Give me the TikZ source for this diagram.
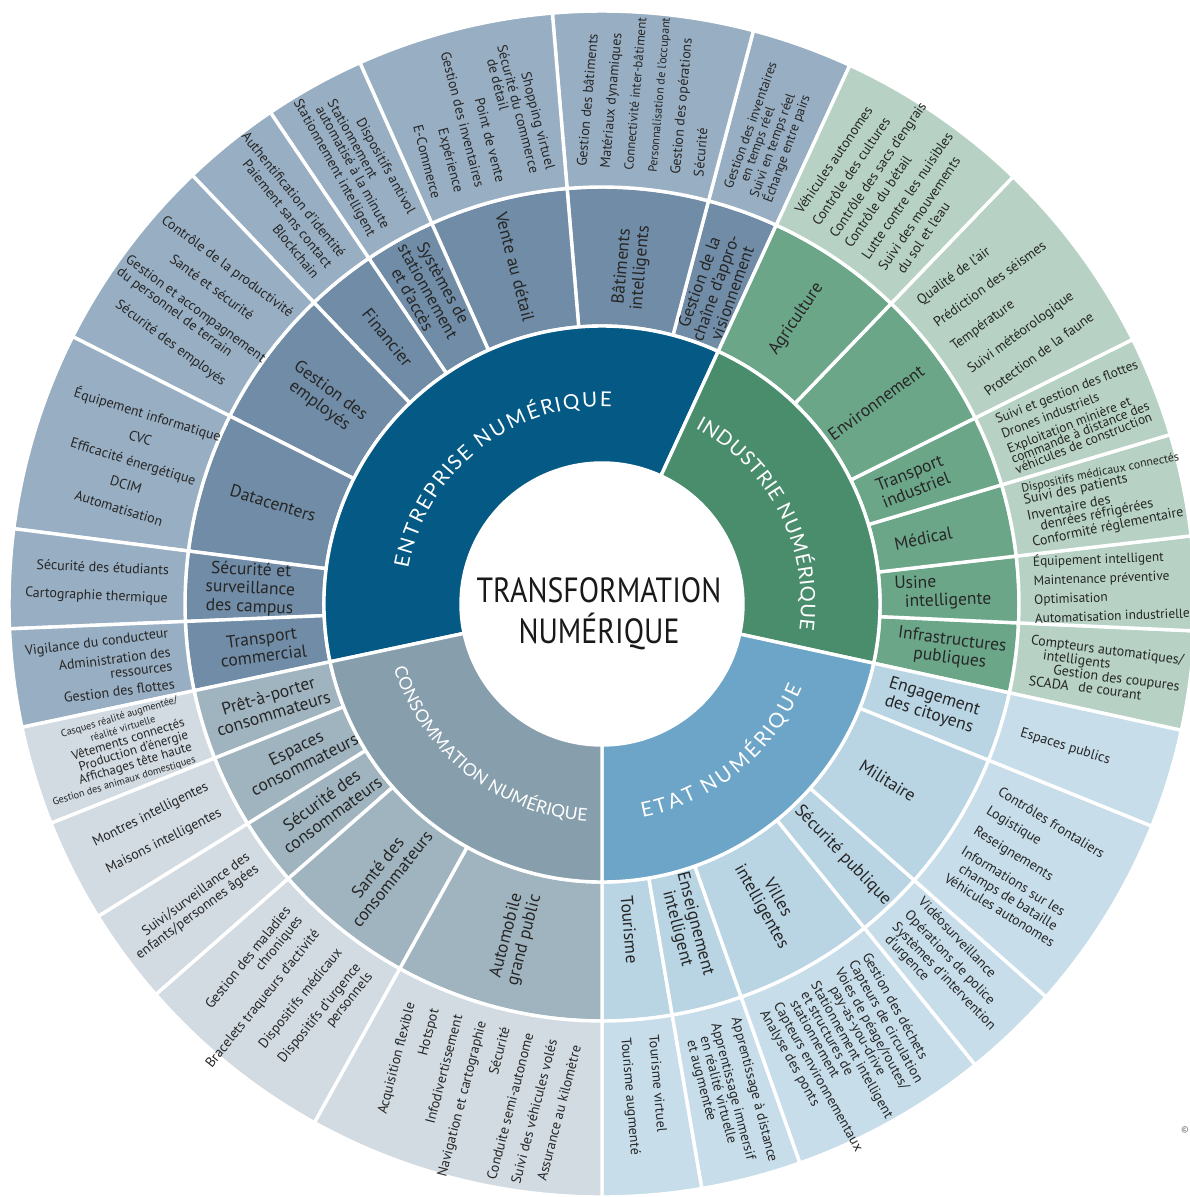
\documentclass[tikz,border=0pt]{standalone}
\usepackage{fontspec}
\usepackage{calc}
\usepackage{graphicx}
\setmainfont{PT Sans}
\newfontfamily\latof{Lato}
\usetikzlibrary{decorations.text}
\definecolor{E1}{RGB}{4,89,133}
\definecolor{E2}{RGB}{112,140,166}
\definecolor{E3}{RGB}{152,174,194}
\definecolor{I1}{RGB}{74,141,109}
\definecolor{I2}{RGB}{108,166,137}
\definecolor{I3}{RGB}{183,210,196}
\definecolor{S1}{RGB}{108,165,199}
\definecolor{S2}{RGB}{185,212,227}
\definecolor{S3}{RGB}{199,221,234}
\definecolor{C1}{RGB}{135,158,173}
\definecolor{C2}{RGB}{160,180,192}
\definecolor{C3}{RGB}{210,219,226}
\definecolor{txt}{RGB}{38,38,38}
\newcommand\annsec[5]{\fill[#1,draw=white,line width=3.4pt] (#2:#4) arc[start angle=#2,end angle=#3,radius=#4] -- (#3:#5) arc[start angle=#3,end angle=#2,radius=#5] -- cycle;}
\newcommand\cbx[2]{\makebox[\widthof{#1}][c]{#2}}
\newcommand\lbx[2]{\makebox[\widthof{#1}][l]{#2}}
\newcommand\lf[2]{\fontsize{#1}{#2}\selectfont\lineskiplimit=-50pt\lineskip=0pt}
\tikzset{
 lab2/.style={font=\lf{17.5}{18.5}, text=txt, align=center, inner sep=0pt},
 leaf/.style={font=\lf{14}{13.5}, text=txt, inner sep=0pt},
 lr/.style={leaf, anchor=west, align=left},
 ll/.style={leaf, anchor=east, align=right},
 lc/.style={leaf, anchor=center, align=center},
 ringtxt/.style 2 args={decorate,decoration={text effects along path,text={#1},text effects/.cd,text along path,fit text to path,characters={text=white,font=\latof\fontsize{#2}{#2}\selectfont,anchor=base,inner sep=0pt}}},
}
\begin{document}
\begin{tikzpicture}[x=1pt,y=1pt]
\fill[white] (-602,-593) rectangle (588,604);
\useasboundingbox (-602,-593) rectangle (588,604);
% ring 2 and 3
\foreach \a/\b in {65.3/75.2,75.2/94.8,94.8/114.1,114.1/124,124/133.7,133.7/153.2,153.2/172.7,172.7/182.4,182.4/192}{\annsec{E2}{\a}{\b}{278}{417}\annsec{E3}{\a}{\b}{417}{593}}
\foreach \a/\b in {-12.3/-2.6,-2.6/6.6,6.6/16.6,16.6/26.5,26.5/46.1,46.1/65.3}{\annsec{I2}{\a}{\b}{278}{417}\annsec{I3}{\a}{\b}{417}{593}}
\foreach \a/\b in {-90/-80.3,-80.3/-70.5,-70.5/-51,-51/-41.5,-41.5/-22,-22/-12.3}{\annsec{S2}{\a}{\b}{278}{417}\annsec{S3}{\a}{\b}{417}{593}}
\foreach \a/\b in {192/201.7,201.7/211.8,211.8/221.2,221.2/241,241/270}{\annsec{C2}{\a}{\b}{278}{417}\annsec{C3}{\a}{\b}{417}{593}}
% ring 1
\annsec{E1}{65.3}{192}{141}{278}
\annsec{I1}{-12.3}{65.3}{141}{278}
\annsec{S1}{-90}{-12.3}{141}{278}
\annsec{C1}{192}{270}{141}{278}
\fill[white] (0,0) circle[radius=141];
% centre
\node[font=\fontsize{35}{41}\selectfont, text=black!90, align=center, inner sep=0pt] (title) at (-3,-10) {\scalebox{0.85}[1]{TRANSFORMATION}\\\scalebox{0.85}[1]{NUMÉRIQUE}};
% ring 1 labels
\path[ringtxt={ENTREPRISE NUMÉRIQUE}{20.5}] (169.7:197) arc[start angle=169.7,end angle=87.2,radius=197];
\path[ringtxt={INDUSTRIE NUMÉRIQUE}{20}] (62:199) arc[start angle=62,end angle=-7.5,radius=199];
\path[ringtxt={ETAT NUMÉRIQUE}{20.5}] (-79.2:217) arc[start angle=-79.2,end angle=-22.8,radius=217];
\path[ringtxt={CONSOMMATION NUMÉRIQUE}{17.5}] (197.2:218) arc[start angle=197.2,end angle=266,radius=218];
% ring 2 labels
\node[lab2,rotate=70.25,font=\lf{17}{17.5}] (gc) at (70.25:336) {Gestion de la\\chaîne d'appro-\\visionnement};
\node[lab2,rotate=85] (bi) at (85:338) {Bâtiments\\intelligents};
\node[lab2,rotate=-75.55] (vd) at (104.45:348) {Vente au détail};
\node[lab2,rotate=-60.95,font=\lf{17}{17.5}] (ss) at (119.05:358) {Systèmes de\\stationnement\\et d'accès};
\node[lab2,rotate=-51.15] (fi) at (128.85:342) {Financier};
\node[lab2,rotate=-36.55] (ge) at (143.45:345) {Gestion des\\employés};
\node[lab2,rotate=-17.05] (dc) at (162.95:344) {Datacenters};
\node[lab2,rotate=-2.45] (sc) at (177.55:352) {Sécurité et\\surveillance\\des campus};
\node[lab2,rotate=7.2] (tc) at (187.2:342) {Transport\\commercial};
\node[lab2,rotate=-7.45] (ip) at (-7.45:352) {Infrastructures\\publiques};
\node[lab2,rotate=2,align=left] (us) at (2:341) {Usine\\\hspace*{10pt}intelligente};
\node[lab2,rotate=11.6] (me) at (11.6:328) {Médical};
\node[lab2,rotate=21.55] (ti) at (21.55:334) {Transport\\industriel};
\node[lab2,rotate=36.3] (env) at (36.3:340) {Environnement};
\node[lab2,rotate=55.7] (ag) at (55.7:345) {Agriculture};
\node[lab2,rotate=-85.15] (to) at (-85.15:327) {Tourisme};
\node[lab2,rotate=-75.4] (en) at (-75.4:333) {Enseignement\\intelligent};
\node[lab2,rotate=-60.75] (vi) at (-60.75:342) {Villes\\intelligentes};
\node[lab2,rotate=-46.25] (sp) at (-46.25:348) {Sécurité publique};
\node[lab2,rotate=-31.75] (mi) at (-31.75:336) {Militaire};
\node[lab2,rotate=-17.15] (ec) at (-17.15:345) {Engagement\\des citoyens};
\node[lab2,rotate=16.85] (pp) at (196.85:346) {Prêt-à-porter\\consommateurs};
\node[lab2,rotate=26.75] (es) at (206.75:338) {Espaces\\consommateurs};
\node[lab2,rotate=36.5] (sv) at (216.5:342) {Sécurité des\\consommateurs};
\node[lab2,rotate=51.1] (sa) at (231.1:346) {Santé des\\consommateurs};
\node[lab2,rotate=75.5] (au) at (255.5:345) {Automobile\\grand public};
% leaves: entreprise
\node[lr,rotate=70.25,font=\lf{13.4}{13}] (l-gc) at (70.25:434) {Gestion des inventaires\\\hspace*{12pt}en temps réel\\[1.5pt]Suivi en temps réel\\[1.5pt]Échange entre pairs};
\node[lr,rotate=85] (l-bi) at (85:434) {Gestion des bâtiments\\[10pt]Matériaux dynamiques\\[10pt]{\fontsize{13}{13.5}\selectfont Connectivité inter-bâtiment}\\[10pt]{\fontsize{12}{13.5}\selectfont Personnalisation de l'occupant}\\[10pt]Gestion des opérations\\[10pt]Sécurité};
\node[ll,rotate=-75.55] (l-vd) at (104.45:434) {Shopping virtuel\\[3pt]Sécurité du commerce\\\lbx{Sécurité du commerce}{\hspace*{11pt}de détail}\\[8pt]Point de vente\\[8pt]Gestion des inventaires\\[8pt]Expérience\\[10pt]E-Commerce};
\node[ll,rotate=-60.95] (l-ss) at (119.05:434) {Dispositifs antivol\\[2.5pt]\lbx{automatisé à la minute}{Stationnement}\\automatisé à la minute\\[2.5pt]Stationnement intelligent};
\node[ll,rotate=-51.15] (l-fi) at (128.85:434) {Authentification d'identité\\[3.5pt]Paiement sans contact\\[3.5pt]Blockchain};
\node[lc,rotate=-36.55,font=\lf{14}{15}] (l-ge) at (143.45:502) {Contrôle de la productivité\\[11.5pt]Santé et sécurité\\[11.5pt]Gestion et accompagnement\\\lbx{Gestion et accompagnement}{du personnel de terrain}\\[12pt]Sécurité des employés};
\node[lc,rotate=-17.05] (l-dc) at (162.95:490) {Équipement informatique\\[11pt]CVC\\[11pt]Efficacité énergétique\\[11pt]DCIM\\[11pt]Automatisation};
\node[ll,rotate=-2.45] (l-sc) at (177.55:434) {Sécurité des étudiants\\[14.5pt]Cartographie thermique};
\node[ll,rotate=7.2,font=\lf{14}{14}] (l-tc) at (187.2:434) {Vigilance du conducteur\\[5.5pt]Administration des\\ressources\\[4.5pt]Gestion des flottes};
% leaves: consommation
\node[ll,rotate=16.85,font=\lf{13}{12.5}] (l-pp) at (196.85:434) {{\fontsize{10.2}{10}\selectfont Casques réalité augmentée/}\\{\fontsize{10.2}{10}\selectfont\cbx{Casques réalité augmentée/}{réalité virtuelle}}\\Vêtements connectés\\Production d'énergie\\Affichages tête haute\\{\fontsize{10.2}{10}\selectfont Gestion des animaux domestiques}};
\node[ll,rotate=26.75] (l-es) at (206.75:434) {Montres intelligentes\\[16pt]Maisons intelligentes};
\node[ll,rotate=36.5,font=\lf{14}{15}] (l-sv) at (216.5:434) {Suivi/surveillance des\\enfants/personnes âgées};
\node[ll,rotate=51.1,font=\lf{14}{15}] (l-sa) at (231.1:434) {Gestion des maladies\\chroniques\\[7pt]Bracelets traqueurs d'activité\\[14pt]Dispositifs médicaux\\[9pt]Dispositifs d'urgence\\personnels};
\node[ll,rotate=75.5] (l-au) at (255.5:434) {Acquisition flexible\\[11pt]Hotspot\\[11pt]Infodivertissement\\[11pt]Navigation et cartographie\\[11pt]Sécurité\\[11pt]Conduite semi-autonome\\[11pt]Suivi des véhicules volés\\[11pt]Assurance au kilomètre};
% leaves: etat
\node[lr,rotate=-85.15] (l-to) at (-85.15:434) {Tourisme virtuel\\[14.5pt]Tourisme augmenté};
\node[lr,rotate=-75.4,font=\lf{14}{14}] (l-en) at (-75.4:434) {Apprentissage à distance\\[7pt]Apprentissage immersif\\\hspace*{10pt}en réalité virtuelle\\\hspace*{11pt}et augmentée};
\node[lr,rotate=-60.75] (l-vi) at (-60.75:434) {Gestion des déchets\\[2pt]Capteurs de circulation\\[2pt]Voies de péage/routes/\\\hspace*{13pt}pay-as-you-drive\\[1pt]Stationnement intelligent\\\hspace*{4pt}et structures de\\\hspace*{6pt}stationnement\\[2pt]Capteurs environnementaux\\[2pt]Analyse des ponts};
\node[lr,rotate=-46.25,font=\lf{14}{14}] (l-sp) at (-46.25:434) {Vidéosurveillance\\[5pt]Opérations de police\\[3pt]Systèmes d'intervention\\\hspace*{4pt}d'urgence};
\node[lr,rotate=-31.75,font=\lf{14}{14}] (l-mi) at (-31.75:436) {Contrôles frontaliers\\[8pt]Logistique\\[10pt]Reseignements\\[10pt]Informations sur les\\[2pt]\hspace*{7pt}champs de bataille\\[2pt]Véhicules autonomes};
\node[lr,rotate=-17.15] (l-ep) at (-17.15:438) {Espaces publics};
% leaves: industrie
\node[lr,rotate=-7.45] (l-ip) at (-7.45:430) {Compteurs automatiques/\\\hspace*{14pt}intelligents\\\hspace*{26pt}Gestion des coupures\\\hspace*{3pt}\makebox[50pt][l]{SCADA}de courant};
\node[lr,rotate=2,font=\lf{13.3}{13.5}] (l-us) at (2:432) {Équipement intelligent\\[5.5pt]Maintenance préventive\\[5.5pt]Optimisation\\[5.5pt]Automatisation industrielle};
\node[lr,rotate=11.6,font=\lf{14}{13}] (l-me) at (11.6:434) {{\fontsize{12}{12}\selectfont Dispositifs médicaux connectés}\\[-1pt]Suivi des patients\\[4pt]Inventaire des\\[-1pt]\hspace*{11pt}denrées réfrigérées\\[1.5pt]Conformité réglementaire};
\node[lr,rotate=21.55,font=\lf{13.4}{11}] (l-ti) at (21.55:434) {Suivi et gestion des flottes\\[5pt]Drones industriels\\[5pt]Exploitation minière et\\commande à distance des\\véhicules de construction};
\node[lr,rotate=36.3] (l-env) at (36.3:434) {Qualité de l'air\\[15pt]Prédiction des séismes\\[15pt]Température\\[15pt]Suivi météorologique\\[15pt]Protection de la faune};
\node[lr,rotate=55.7,font=\lf{14}{14}] (l-ag) at (55.7:434) {Véhicules autonomes\\[7pt]Contrôle des cultures\\[7pt]Contrôle des sacs d'engrais\\[4pt]Contrôle du bétail\\[7pt]Lutte contre les nuisibles\\[6pt]Suivi des mouvements\\[3pt]\hspace*{8pt}du sol et l'eau};
\node[font=\fontsize{9}{9}\selectfont, text=black!60, inner sep=0pt] (copy) at (583,-526) {©};
\end{tikzpicture}
\end{document}
